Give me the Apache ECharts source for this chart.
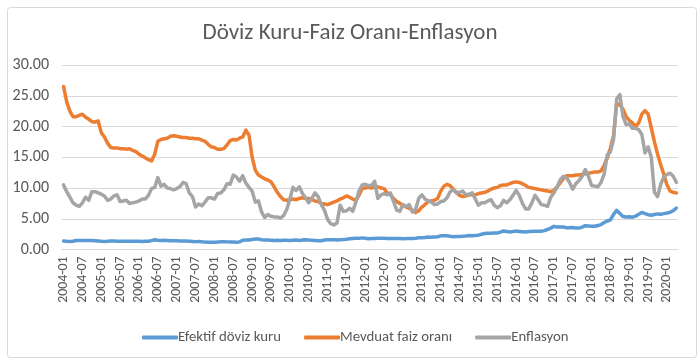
<!DOCTYPE html>
<html>
<head>
<meta charset="utf-8">
<script src="https://cdn.jsdelivr.net/npm/echarts@6/dist/echarts.min.js"></script>
<style>
html,body{margin:0;padding:0;background:#fff;}
#c{width:700px;height:361px;}
</style>
</head>
<body>
<div id="c"></div>
<script>
const title = 'Döviz Kuru-Faiz Oranı-Enflasyon';
const seriesNames = ['Efektif döviz kuru', 'Mevduat faiz oranı', 'Enflasyon'];
const startYear = 2004, monthCount = 196;
const categories = [];
for (let i = 0; i < monthCount; i++) {
  const y = startYear + Math.floor(i / 12), m = (i % 12) + 1;
  categories.push(y + '-' + (m < 10 ? '0' + m : m));
}
const yTicks = [0, 5, 10, 15, 20, 25, 30];

const efektifDoviz = [
  1.37,1.33,1.32,1.35,1.45,1.46,1.45,1.46,1.47,1.45,1.43,1.40,
  1.34,1.31,1.33,1.38,1.37,1.36,1.35,1.35,1.35,1.35,1.36,1.35,
  1.34,1.32,1.34,1.33,1.45,1.58,1.50,1.46,1.49,1.46,1.44,1.44,
  1.42,1.40,1.39,1.37,1.34,1.31,1.28,1.32,1.25,1.20,1.19,1.17,
  1.18,1.20,1.25,1.28,1.24,1.22,1.20,1.18,1.24,1.50,1.56,1.54,
  1.62,1.69,1.70,1.60,1.55,1.54,1.52,1.48,1.49,1.46,1.49,1.51,
  1.46,1.51,1.53,1.48,1.54,1.58,1.53,1.50,1.48,1.42,1.43,1.53,
  1.57,1.59,1.59,1.54,1.57,1.61,1.67,1.75,1.80,1.83,1.81,1.89,
  1.83,1.76,1.79,1.78,1.81,1.82,1.81,1.80,1.80,1.79,1.79,1.78,
  1.76,1.77,1.80,1.80,1.83,1.91,1.93,1.95,2.02,1.98,2.03,2.07,
  2.22,2.22,2.22,2.14,2.09,2.11,2.13,2.16,2.20,2.26,2.23,2.28,
  2.33,2.47,2.59,2.65,2.64,2.70,2.69,2.82,3.02,2.93,2.85,2.92,
  2.99,2.94,2.89,2.84,2.94,2.92,2.96,2.96,2.97,3.07,3.25,3.48,
  3.76,3.66,3.65,3.65,3.55,3.52,3.56,3.50,3.48,3.65,3.88,3.84,
  3.77,3.78,3.89,4.05,4.39,4.63,4.81,5.71,6.36,5.85,5.36,5.30,
  5.34,5.26,5.42,5.74,6.02,5.83,5.66,5.56,5.70,5.79,5.74,5.83,
  5.92,6.06,6.31,6.75
];
const mevduatFaiz = [
  26.5,24.0,22.5,21.6,21.6,21.8,22.0,21.5,21.2,20.8,20.7,20.9,
  19.0,18.3,17.3,16.6,16.5,16.5,16.4,16.4,16.3,16.4,16.1,15.9,
  15.5,15.2,14.9,14.6,14.4,15.5,17.6,17.9,18.0,18.1,18.4,18.5,
  18.4,18.3,18.2,18.2,18.1,18.1,18.0,18.0,17.8,17.6,17.1,16.7,
  16.6,16.3,16.3,16.4,17.0,17.7,17.9,17.8,18.1,18.3,19.4,18.6,
  15.0,12.9,12.1,11.8,11.5,11.3,11.0,10.2,9.3,8.6,8.1,8.0,
  8.1,8.2,8.1,8.3,8.4,8.3,8.3,8.1,7.9,7.8,7.5,7.4,
  7.3,7.5,7.7,7.9,8.2,8.4,8.7,8.5,8.2,8.0,8.8,9.9,
  10.0,10.1,10.0,10.2,10.2,10.0,9.9,9.2,8.9,8.3,7.8,7.5,
  7.2,6.9,6.7,6.4,6.0,6.3,6.9,7.3,7.8,7.9,8.0,8.3,
  9.5,10.3,10.6,10.4,9.8,9.3,8.8,8.6,8.7,8.9,8.9,8.9,
  9.1,9.2,9.3,9.5,9.8,10.0,10.1,10.4,10.5,10.5,10.7,10.9,
  11.0,10.9,10.7,10.4,10.1,10.0,9.9,9.8,9.7,9.6,9.5,9.4,
  9.6,10.2,10.8,11.5,12.0,12.0,12.0,12.1,12.1,12.2,12.3,12.4,
  12.5,12.6,12.6,12.8,13.7,14.9,16.5,18.5,23.8,23.5,22.8,21.6,
  21.0,20.6,20.0,20.6,22.0,22.6,22.0,19.8,17.5,15.5,13.8,12.2,
  10.5,9.5,9.3,9.2
];
const enflasyon = [
  10.5,9.4,8.5,7.6,7.2,7.0,7.6,8.5,8.0,9.4,9.4,9.2,
  9.0,8.7,8.0,8.2,8.7,8.9,7.8,7.9,8.0,7.5,7.6,7.7,
  7.9,8.2,8.2,8.8,9.9,10.1,11.7,10.3,10.6,10.0,9.9,9.7,
  9.9,10.2,10.9,10.7,9.2,8.6,6.9,7.4,7.1,7.7,8.4,8.4,
  8.2,9.1,9.2,9.7,10.7,10.6,12.1,11.8,11.1,12.0,10.8,10.1,
  9.5,7.7,7.9,6.1,5.2,5.7,5.4,5.3,5.3,5.1,5.5,6.5,
  8.2,10.1,9.6,10.2,9.1,8.4,7.6,8.3,9.2,8.6,7.3,6.4,
  4.9,4.2,4.0,4.3,7.2,6.2,6.3,6.7,6.2,7.7,9.5,10.5,
  10.6,10.4,10.4,11.1,8.3,8.9,9.1,8.9,9.2,7.8,6.4,6.2,
  7.3,7.0,7.3,6.1,6.5,8.3,8.9,8.2,7.9,7.7,7.3,7.4,
  7.8,7.9,8.4,9.4,9.7,9.2,9.3,9.5,8.9,9.0,9.2,8.2,
  7.2,7.6,7.6,7.9,8.1,7.2,6.8,7.1,8.0,7.6,8.1,8.8,
  9.6,8.8,7.5,6.6,6.6,7.6,8.8,8.1,7.3,7.2,7.0,8.5,
  9.2,10.1,11.3,11.9,11.7,10.9,9.8,10.7,11.2,11.9,13.0,11.9,
  10.4,10.3,10.2,10.9,12.2,15.4,15.9,17.9,24.5,25.2,21.6,20.3,
  20.4,19.7,19.7,19.5,18.7,15.7,16.7,15.0,9.3,8.6,10.6,11.8,
  12.2,12.4,11.9,10.9
];
const colors = ['#5B9BD5', '#ED7D31', '#A5A5A5'];
const seriesData = [efektifDoviz, mevduatFaiz, enflasyon];

const font = "Carlito, 'Open Sans', 'Noto Sans', sans-serif";
const chart = echarts.init(document.getElementById('c'), null, {renderer: 'canvas'});
chart.setOption({
  animation: false,
  backgroundColor: '#fff',
  title: {
    text: title, left: 'center', top: 17,
    textStyle: {fontFamily: font, fontSize: 23, fontWeight: 'normal', color: '#595959'}
  },
  graphic: [{
    type: 'rect', left: 5, top: 5,
    shape: {width: 689, height: 350, r: 3},
    style: {fill: 'none', stroke: '#d9d9d9', lineWidth: 1}
  }],
  legend: {
    top: 325, left: 137, itemGap: 23,
    icon: 'roundRect', itemWidth: 36, itemHeight: 4,
    textStyle: {fontFamily: font, fontSize: 14.8, color: '#595959', padding: [0,0,0,-5]},
    data: seriesNames
  },
  grid: {left: 62, right: 22, top: 65, bottom: 111.5, containLabel: false},
  xAxis: {
    type: 'category', data: categories, boundaryGap: true,
    axisLine: {show: true, lineStyle: {color: '#d9d9d9', width: 1}},
    axisTick: {show: false},
    axisLabel: {
      interval: 5, rotate: 90, margin: 7,
      fontFamily: font, fontSize: 13.8, color: '#595959'
    }
  },
  yAxis: {
    type: 'value', min: yTicks[0], max: yTicks[yTicks.length - 1], interval: 5,
    axisLine: {show: false}, axisTick: {show: false},
    splitLine: {lineStyle: {color: '#d9d9d9', width: 1}},
    axisLabel: {
      margin: 13, fontFamily: font, fontSize: 16, color: '#595959',
      formatter: v => v.toFixed(2)
    }
  },
  series: seriesNames.map((n, k) => ({
    name: n, type: 'line', data: seriesData[k], showSymbol: false, symbol: 'none',
    lineStyle: {width: 3.5, color: colors[k], cap: 'round', join: 'round'},
    itemStyle: {color: colors[k]}
  }))
});
</script>
</body>
</html>
